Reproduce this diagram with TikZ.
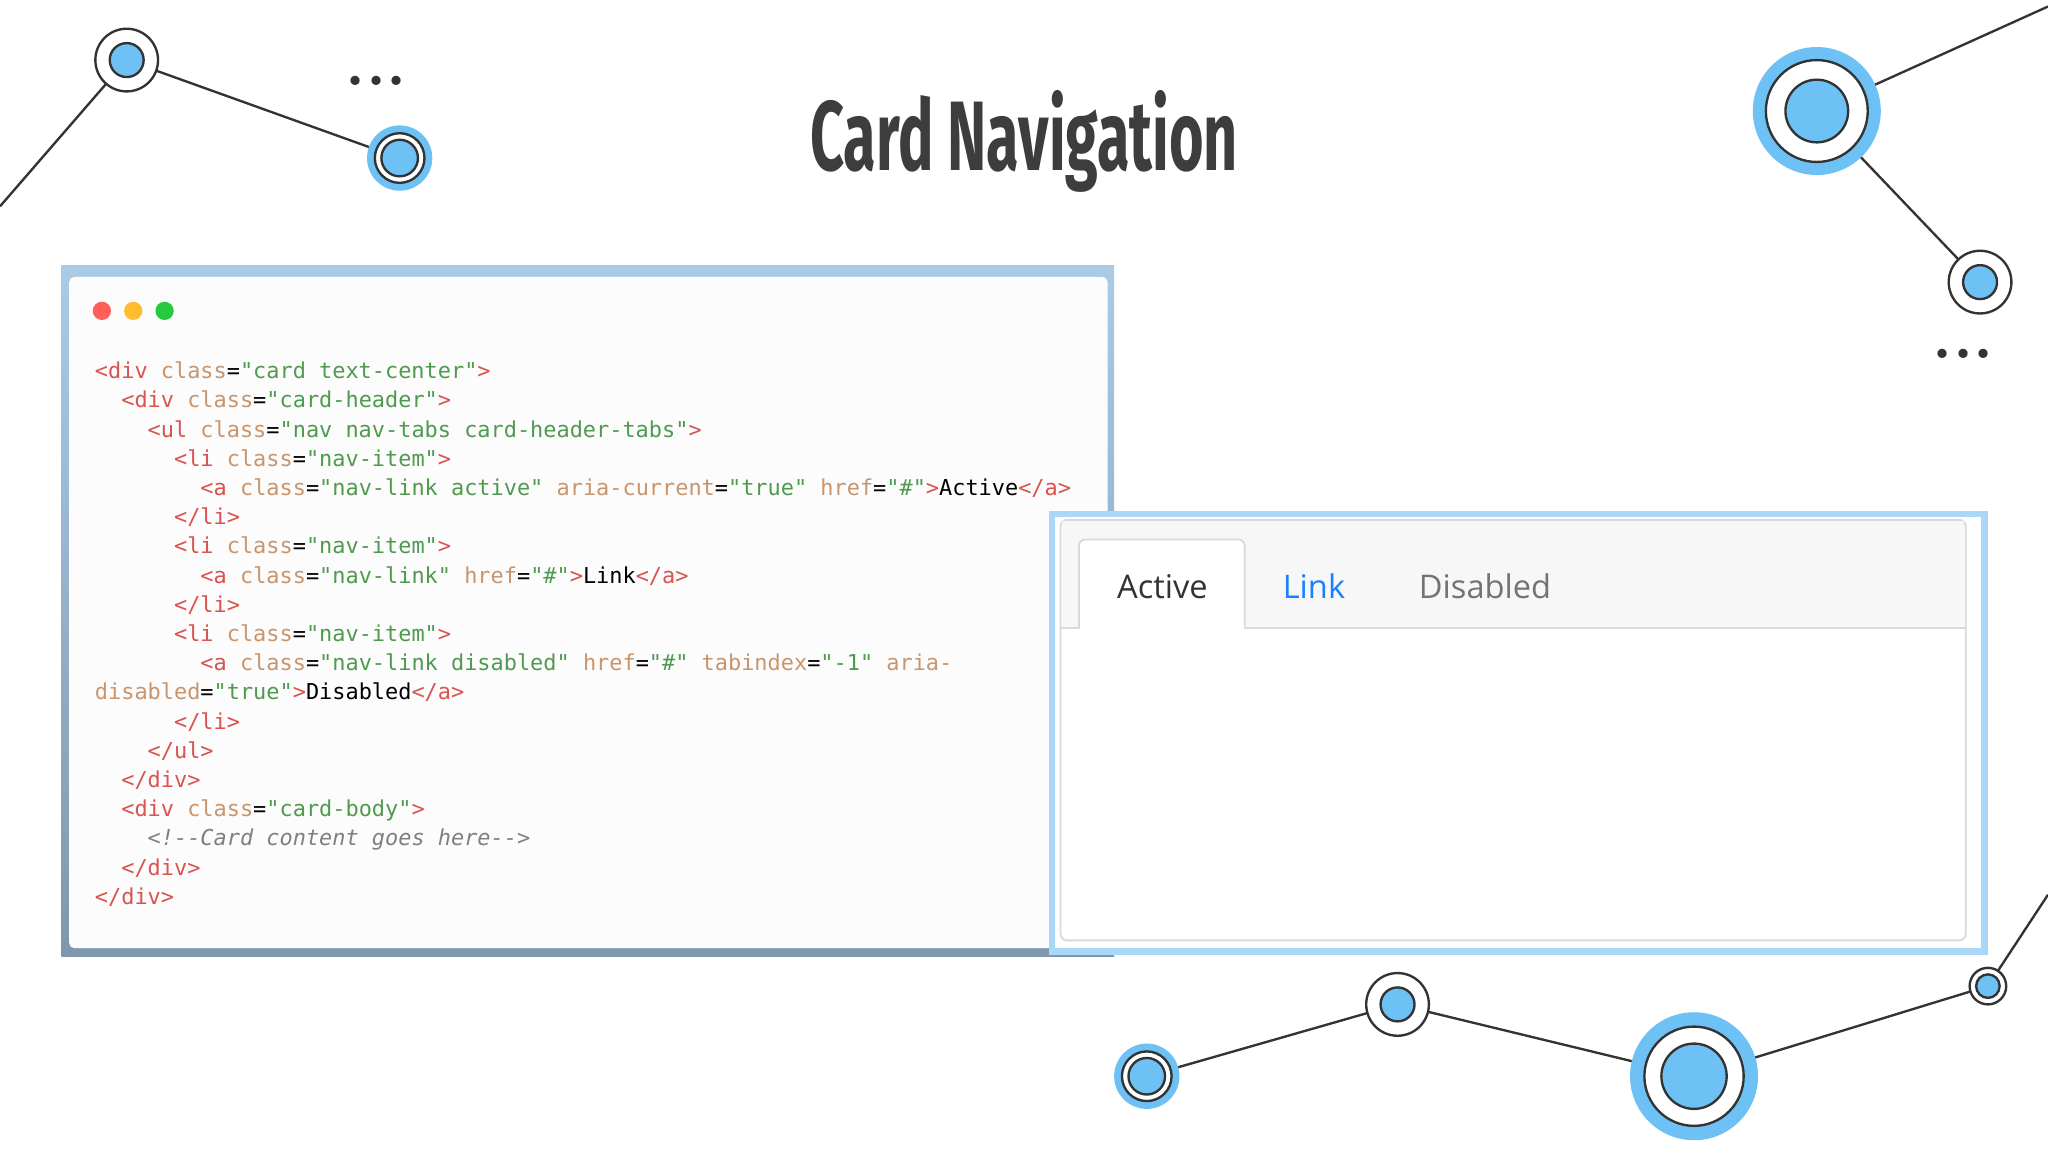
\documentclass[tikz,border=0pt]{standalone}
\usepackage{fontspec}
\setmonofont{DejaVu Sans Mono}
\newfontfamily\titlefont{Fira Sans}
\newfontfamily\tabfont{Open Sans}
\usetikzlibrary{backgrounds}
\definecolor{cblue}{HTML}{6EC1F5}
\definecolor{dark}{HTML}{333333}
\definecolor{tagc}{HTML}{D9534F}
\definecolor{attc}{HTML}{C8956C}
\definecolor{strc}{HTML}{4F9A4F}
\definecolor{frameb}{HTML}{A8D8F5}
\definecolor{dotr}{HTML}{FF5F56}
\definecolor{doty}{HTML}{FFBD2E}
\definecolor{dotg}{HTML}{27C93F}
\definecolor{frtop}{HTML}{A9CBE6}
\definecolor{frbot}{HTML}{7F97AD}
\newcommand{\tg}[1]{\textcolor{tagc}{#1}}
\newcommand{\at}[1]{\textcolor{attc}{#1}}
\newcommand{\st}[1]{\textcolor{strc}{#1}}
\tikzset{
 x=0.01cm,y=-0.01cm,
 link/.style={draw=dark,line width=0.018cm},
 codeline/.style={anchor=base west,inner sep=0,font=\ttfamily\fontsize{4.77}{6}\selectfont},
 tabtxt/.style={font=\tabfont\fontsize{7.1}{8}\selectfont,inner sep=0},
 dotsnode/.style={font=\fontsize{14}{14}\selectfont\bfseries,text=dark,inner sep=0}
}
\newcommand{\ringwhite}[2]{%
 \fill[white,draw=dark,line width=0.018cm] (#1) circle (#2*24);
 \fill[cblue,draw=dark,line width=0.018cm] (#1) circle (#2*13);}
\newcommand{\ringblue}[2]{%
 \fill[cblue] (#1) circle (#2*25);
 \fill[white] (#1) circle (#2*19);
 \fill[cblue,draw=dark,line width=0.018cm] (#1) circle (#2*14);
 \draw[dark,line width=0.018cm] (#1) circle (#2*19);}
\begin{document}
\begin{tikzpicture}
\useasboundingbox (0,0) rectangle (1568,882);
\fill[white] (0,0) rectangle (1568,882);
\coordinate (e1) at (0,158);
\coordinate (a1) at (97,46);
\coordinate (a2) at (306,121);
\coordinate (e2) at (1568,5);
\coordinate (b1) at (1391,85);
\coordinate (b2) at (1516,216);
\coordinate (c1) at (878,824);
\coordinate (c2) at (1070,769);
\coordinate (c3) at (1297,824);
\coordinate (c4) at (1522,755);
\coordinate (e3) at (1568,685);
\draw[link] (e1)--(a1)--(a2);
\draw[link] (e2)--(b1)--(b2);
\draw[link] (c1)--(c2)--(c3)--(c4)--(e3);
\ringwhite{a1}{1}
\ringblue{a2}{1}
\node[dotsnode] (d1) at (288,62) {...};
\fill[cblue] (b1) circle (49);
\fill[white] (b1) circle (39);
\draw[dark,line width=0.018cm] (b1) circle (39);
\fill[cblue,draw=dark,line width=0.018cm] (b1) circle (24);
\ringwhite{b2}{1}
\node[dotsnode] (d2) at (1503,271) {...};
\ringblue{c1}{1}
\ringwhite{c2}{1}
\fill[cblue] (c3) circle (49);
\fill[white] (c3) circle (38);
\draw[dark,line width=0.018cm] (c3) circle (38);
\fill[cblue,draw=dark,line width=0.018cm] (c3) circle (25);
\fill[white,draw=dark,line width=0.018cm] (c4) circle (14);
\fill[cblue,draw=dark,line width=0.018cm] (c4) circle (9);
\node[text=dark!95,inner sep=0] (title) at (784,108) {\scalebox{0.6}[1]{\titlefont\fontseries{sb}\fontsize{21.5}{24}\selectfont Card Navigation}};
\shade[top color=frtop,bottom color=frbot] (47,203) rectangle (853,732);
\fill[white!98!gray,rounded corners=0.04cm] (53,212) rectangle (848,726);
\fill[dotr] (78,238) circle (7);
\fill[doty] (102,238) circle (7);
\fill[dotg] (126,238) circle (7);
\foreach \i/\ind/\txt in {
0/0/{\tg{<div} \at{class}=\st{"card text-center"}\tg{>}},
1/2/{\tg{<div} \at{class}=\st{"card-header"}\tg{>}},
2/4/{\tg{<ul} \at{class}=\st{"nav nav-tabs card-header-tabs"}\tg{>}},
3/6/{\tg{<li} \at{class}=\st{"nav-item"}\tg{>}},
4/8/{\tg{<a} \at{class}=\st{"nav-link active"} \at{aria-current}=\st{"true"} \at{href}=\st{"\#"}\tg{>}Active\tg{</a>}},
5/6/{\tg{</li>}},
6/6/{\tg{<li} \at{class}=\st{"nav-item"}\tg{>}},
7/8/{\tg{<a} \at{class}=\st{"nav-link"} \at{href}=\st{"\#"}\tg{>}Link\tg{</a>}},
8/6/{\tg{</li>}},
9/6/{\tg{<li} \at{class}=\st{"nav-item"}\tg{>}},
10/8/{\tg{<a} \at{class}=\st{"nav-link disabled"} \at{href}=\st{"\#"} \at{tabindex}=\st{"-1"} \at{aria-}},
11/0/{\at{disabled}=\st{"true"}\tg{>}Disabled\tg{</a>}},
12/6/{\tg{</li>}},
13/4/{\tg{</ul>}},
14/2/{\tg{</div>}},
15/2/{\tg{<div} \at{class}=\st{"card-body"}\tg{>}},
16/4/{\textcolor{gray}{\itshape <!--Card content goes here-->}},
17/2/{\tg{</div>}},
18/0/{\tg{</div>}}}
{\node[codeline] (l\i) at ({72+10.1*\ind},{290+22.35*\i}) {\txt};}
\fill[white,draw=frameb,line width=0.05cm] (805.5,393.5) rectangle (1519.5,728.5);
\draw[gray!30,fill=white,rounded corners=0.05cm] (812,398) rectangle (1505,720);
\fill[gray!6] (813,399) rectangle (1504,481);
\draw[gray!30] (812,481) -- (1505,481);
\draw[gray!30,fill=white,rounded corners=0.05cm] (826,481) -- (826,413) -- (953,413) -- (953,481);
\fill[white] (826.5,479) rectangle (952.5,482);
\node[tabtxt,text=gray!40!black] (t1) at (890,449) {Active};
\node[tabtxt,text=blue!55!cyan!90] (t2) at (1006,449) {Link};
\node[tabtxt,text=gray!90!black] (t3) at (1137,449) {Disabled};
\end{tikzpicture}
\end{document}
